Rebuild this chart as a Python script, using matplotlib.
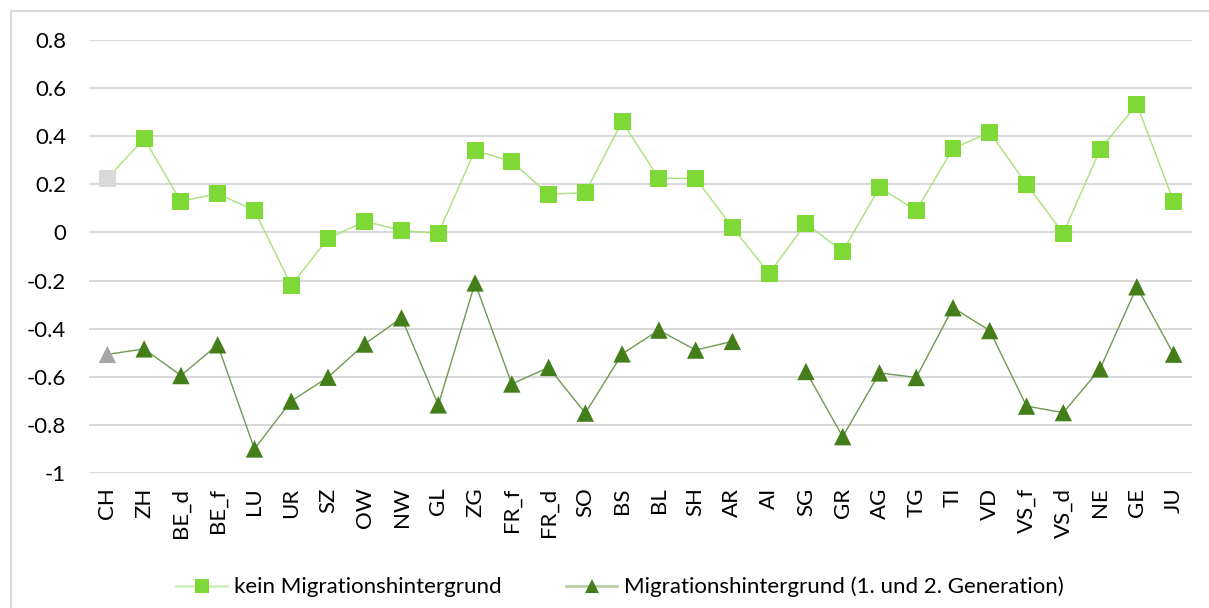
import matplotlib
matplotlib.use("Agg")
import numpy as np
import matplotlib.pyplot as plt
from matplotlib.lines import Line2D
from matplotlib.patches import Rectangle

plt.rcParams["font.family"] = ["Lato", "DejaVu Sans"]

cantons = ["CH", "ZH", "BE_d", "BE_f", "LU", "UR", "SZ", "OW", "NW", "GL",
           "ZG", "FR_f", "FR_d", "SO", "BS", "BL", "SH", "AR", "AI", "SG",
           "GR", "AG", "TG", "TI", "VD", "VS_f", "VS_d", "NE", "GE", "JU"]

kein_migration = [0.225, 0.39, 0.129, 0.162, 0.091, -0.22, -0.025, 0.046, 0.008, -0.004,
                  0.341, 0.295, 0.158, 0.166, 0.461, 0.225, 0.225, 0.021, -0.17, 0.037,
                  -0.079, 0.187, 0.091, 0.349, 0.416, 0.20, -0.004, 0.345, 0.532, 0.129]

mit_migration = [-0.507, -0.484, -0.595, -0.467, -0.90, -0.701, -0.602, -0.464, -0.355, -0.717,
                 -0.21, -0.63, -0.561, -0.751, -0.505, -0.406, -0.489, -0.453, np.nan, -0.578,
                 -0.849, -0.584, -0.603, -0.313, -0.408, -0.722, -0.749, -0.567, -0.226, -0.506]

label_kein = "kein Migrationshintergrund"
label_mit = "Migrationshintergrund (1. und 2. Generation)"
y_ticks = [0.8, 0.6, 0.4, 0.2, 0, -0.2, -0.4, -0.6, -0.8, -1]
y_tick_labels = ["0.8", "0.6", "0.4", "0.2", "0", "-0.2", "-0.4", "-0.6", "-0.8", "-1"]

LIGHT = "#7ED836"
LIGHT_LINE = "#a6e27a"
DARK = "#437E1A"
DARK_LINE = "#6f9a52"
FS = 16

W, H = 1209, 608
fig = plt.figure(figsize=(W / 100, H / 100), dpi=100)

# outer chart border (only left/top visible in the crop)
fig.patches.append(Rectangle((11 / W, -0.1), 1.2, (H - 11) / H + 0.1, transform=fig.transFigure,
                             fill=False, edgecolor="#d9d9d9", linewidth=1.5))

ax = fig.add_axes([89 / W, (H - 473) / H, (1192 - 89) / W, (473 - 40) / H])
x = np.arange(len(cantons))

ax.plot(x, kein_migration, color=LIGHT_LINE, linewidth=1.0, zorder=2)
ax.plot(x, mit_migration, color=DARK_LINE, linewidth=1.0, zorder=2)

kein_colors = ["#d9d9d9"] + [LIGHT] * (len(cantons) - 1)
mit_colors = ["#a6a6a6"] + [DARK] * (len(cantons) - 1)
ax.scatter(x, kein_migration, marker="s", s=12.2 ** 2, c=kein_colors, linewidths=0, zorder=3)
ax.scatter(x, mit_migration, marker="^", s=12.5 ** 2, c=mit_colors, linewidths=0, zorder=3)

ax.set_xlim(-0.5, len(cantons) - 0.5)
ax.set_ylim(-1, 0.8)
ax.set_yticks(y_ticks)
ax.set_yticklabels(y_tick_labels)
ax.set_xticks(x)
ax.set_xticklabels(cantons, rotation=90)
ax.tick_params(axis="y", length=0, pad=16.5, labelsize=FS)
ax.tick_params(axis="x", length=0, pad=10.5, labelsize=FS)
for s in ax.spines.values():
    s.set_visible(False)
ax.grid(axis="y", color="#d9d9d9", linewidth=1.5)
ax.set_axisbelow(True)

handles = [
    Line2D([], [], color="#d3efbf", linewidth=2, marker="s", markersize=10,
           markerfacecolor=LIGHT, markeredgewidth=0),
    Line2D([], [], color="#b8d0a8", linewidth=2, marker="^", markersize=10,
           markerfacecolor=DARK, markeredgewidth=0),
]
fig.legend(handles, [label_kein, label_mit], loc="center", ncol=2,
           bbox_to_anchor=(620 / W, 1 - 587 / H), frameon=False, fontsize=FS,
           handlelength=2.3, handletextpad=0.3, columnspacing=2.9,
           borderpad=0, borderaxespad=0)

fig.savefig("out.png", dpi=100)
